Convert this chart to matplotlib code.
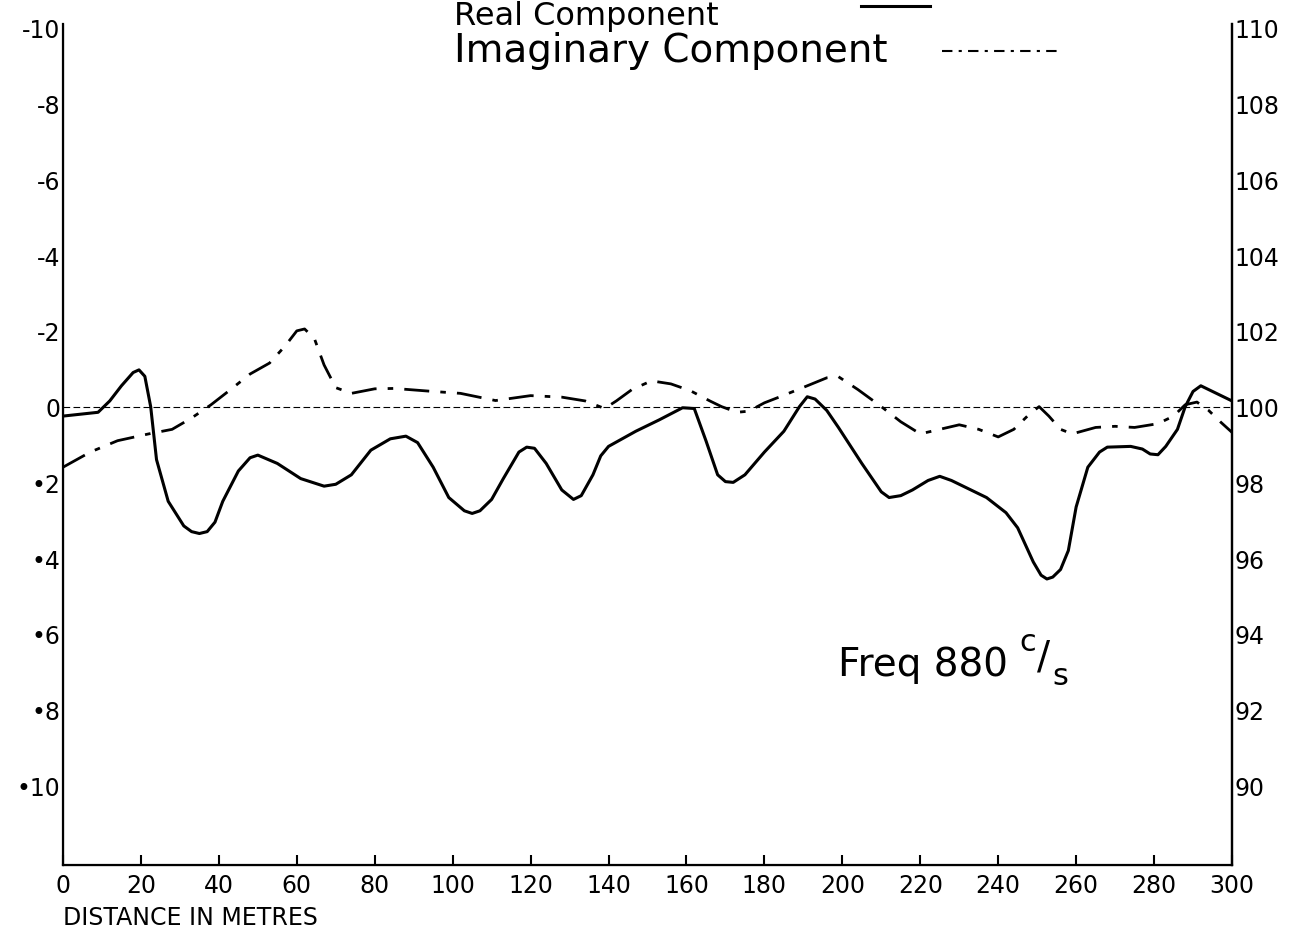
import matplotlib
matplotlib.use("Agg")
import matplotlib.pyplot as plt
from matplotlib.lines import Line2D

plt.rcParams['font.family'] = ['DejaVu Sans']

# distance (m) and real component values (left axis, positive downwards)
real_x = [0, 9, 12, 15, 18, 19.5, 21, 22.5, 24, 27, 31, 33, 35, 37, 39, 41, 45, 48, 50, 55,
          61, 67, 70, 74, 79, 84, 88, 91, 95, 99, 103, 105, 107, 110, 113, 117, 119, 121,
          124, 128, 131, 133, 136, 138, 140, 147, 153, 159, 162, 165, 168, 170, 172, 175,
          180, 185, 189, 191, 193, 196, 199, 205, 210, 212, 215, 218, 222, 225, 228, 231,
          237, 242, 245, 249, 251, 252.5, 254, 256, 258, 260, 263, 266, 268, 274, 277, 279,
          281, 283, 286, 288, 290, 292, 294, 297, 300]
real_y = [0.25, 0.15, -0.15, -0.55, -0.9, -0.97, -0.8, 0.0, 1.4, 2.5, 3.15, 3.3, 3.35, 3.3,
          3.05, 2.5, 1.7, 1.35, 1.28, 1.5, 1.9, 2.1, 2.05, 1.8, 1.15, 0.85, 0.78, 0.95, 1.6,
          2.4, 2.75, 2.82, 2.75, 2.45, 1.9, 1.2, 1.07, 1.1, 1.5, 2.2, 2.45, 2.35, 1.8, 1.3,
          1.05, 0.65, 0.35, 0.03, 0.05, 0.9, 1.8, 1.98, 2.0, 1.8, 1.2, 0.65, 0.0, -0.26,
          -0.2, 0.1, 0.55, 1.5, 2.25, 2.4, 2.35, 2.2, 1.95, 1.84, 1.95, 2.1, 2.4, 2.8, 3.2,
          4.1, 4.45, 4.55, 4.5, 4.3, 3.8, 2.65, 1.6, 1.2, 1.07, 1.05, 1.12, 1.25, 1.27, 1.05,
          0.6, 0.0, -0.4, -0.55, -0.45, -0.3, -0.15]

# imaginary component
imag_x = [0, 7, 14, 22, 28, 33, 38, 43, 48, 53, 57, 60, 62, 64.5, 67, 70, 74, 80, 85, 95,
          102, 111, 120, 128, 134, 139, 142, 146, 151, 156, 161, 166, 169, 173, 176, 180, 185,
          191, 196, 199, 204, 210, 215, 220, 225, 230, 235, 240, 244, 248, 250.5, 253, 256,
          259, 265, 270, 275, 281, 285, 288, 291, 294, 297, 300]
imag_y = [1.6, 1.2, 0.9, 0.72, 0.6, 0.3, -0.05, -0.45, -0.86, -1.15, -1.6, -2.0, -2.05, -1.8,
          -1.1, -0.5, -0.35, -0.47, -0.48, -0.4, -0.35, -0.16, -0.29, -0.25, -0.15, 0.05,
          -0.15, -0.45, -0.68, -0.6, -0.42, -0.15, 0.0, 0.15, 0.12, -0.1, -0.3, -0.55, -0.76,
          -0.79, -0.45, 0.0, 0.4, 0.72, 0.6, 0.48, 0.6, 0.8, 0.6, 0.2, 0.0, 0.25, 0.6, 0.72,
          0.55, 0.52, 0.55, 0.45, 0.25, -0.05, -0.12, 0.1, 0.4, 0.68]

x_ticks = list(range(0, 301, 20))
left_ticks = [-10, -8, -6, -4, -2, 0, 2, 4, 6, 8, 10]
left_labels = ['-10', '-8', '-6', '-4', '-2', '0', '•2', '•4', '•6', '•8', '•10']
right_labels = ['110', '108', '106', '104', '102', '100', '98', '96', '94', '92', '90']

fig = plt.figure(figsize=(12.91, 9.37), dpi=100)
ax = fig.add_axes([0.0488, 0.0758, 0.9055, 0.8975])

ax.plot(real_x, real_y, color='black', lw=2.2, solid_joinstyle='round')
ax.plot(imag_x, imag_y, color='black', lw=2.0, linestyle=(0, (9, 4, 2, 4)))
ax.axhline(0, color='black', lw=0.8, linestyle=(0, (6, 3)))

ax.set_xlim(0, 300)
ax.set_ylim(12.1, -10.1)

ax.spines['top'].set_visible(False)
for s in ['left', 'right', 'bottom']:
    ax.spines[s].set_linewidth(1.6)

ax.set_xticks(x_ticks)
ax.set_xticklabels([str(t) for t in x_ticks], fontsize=17)
ax.tick_params(axis='x', direction='in', length=7, width=1.5, pad=6)

ax.set_yticks(left_ticks)
ax.set_yticklabels(left_labels, fontsize=17)
ax.tick_params(axis='y', length=0, pad=2)

ax2 = ax.twinx()
ax2.set_ylim(ax.get_ylim())
ax2.set_yticks(left_ticks)
ax2.set_yticklabels(right_labels, fontsize=17)
ax2.tick_params(axis='y', length=0, pad=2)
ax2.spines['top'].set_visible(False)
ax2.spines['right'].set_linewidth(1.6)

fig.text(0.0488, 0.02, 'DISTANCE IN METRES', fontsize=17, ha='left', va='center')

# legend drawn by hand at the top
fig.text(0.352, 0.999, 'Real Component', fontsize=23, ha='left', va='top')
fig.text(0.352, 0.946, 'Imaginary Component', fontsize=28, ha='left', va='center')
fig.add_artist(Line2D([0.667, 0.72], [0.993, 0.993], color='black', lw=2.2,
                      transform=fig.transFigure))
fig.add_artist(Line2D([0.73, 0.822], [0.944, 0.944], color='black', lw=1.5,
                      linestyle=(0, (5, 3, 1.5, 3)), transform=fig.transFigure))

# frequency note, "c/s" written as raised c, slash, lowered s
ax.text(199, 6.8, 'Freq 880', fontsize=28, ha='left', va='center')
ax.text(245.5, 6.2, 'c', fontsize=22, ha='left', va='center')
ax.text(250, 6.6, '/', fontsize=28, ha='left', va='center')
ax.text(254, 7.1, 's', fontsize=22, ha='left', va='center')

fig.savefig('out.png', dpi=100)
